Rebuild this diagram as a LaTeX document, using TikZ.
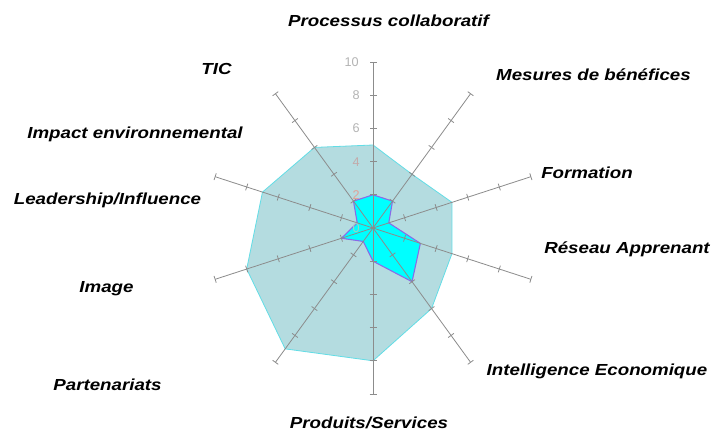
\documentclass[tikz,border=0pt]{standalone}
\usepackage{fontspec}
\setmainfont{Liberation Sans}
\definecolor{outerfill}{HTML}{B4DCE0}
\definecolor{outeredge}{HTML}{62DDE6}
\definecolor{innerfill}{HTML}{00FFFF}
\definecolor{inneredge}{HTML}{8A6AE8}
\definecolor{axiscol}{HTML}{8C8C8C}
\definecolor{numcol}{HTML}{B4B4B4}
\definecolor{numfour}{RGB}{195,170,170}
\definecolor{numtwo}{RGB}{226,160,150}
\definecolor{numzero}{RGB}{160,210,195}
\newcommand\lbltxt[1]{\scalebox{1.17}[1]{#1}}
\begin{document}
\begin{tikzpicture}[x=0.75pt,y=-0.75pt,
  lab/.style={font=\fontsize{12}{14}\selectfont\bfseries\itshape, anchor=base, inner sep=0pt},
  num/.style={font=\fontsize{9.5}{10}\selectfont, anchor=east, inner sep=0pt, text=numcol},
  axisline/.style={draw=axiscol, line width=0.6pt},
  outerpoly/.style={fill=outerfill, draw=outeredge, line width=0.6pt},
  innerpoly/.style={fill=innerfill, draw=inneredge, line width=0.8pt}]
\useasboundingbox[fill=white] (0,0) rectangle (713,432);
\coordinate (c) at (373,228);
\foreach \i in {0,...,9} {
  \coordinate (e\i) at ({373+166*sin(36*\i)},{228-166*cos(36*\i)});
}
\foreach \i/\v in {0/5,1/4,2/5,3/5,4/6,5/8,6/9,7/8,8/7,9/6} {
  \coordinate (o\i) at ({373+\v*16.6*sin(36*\i)},{228-\v*16.6*cos(36*\i)});
}
\foreach \i/\v in {0/2,1/2,2/1,3/3,4/4,5/2,6/1,7/2,8/1,9/2} {
  \coordinate (n\i) at ({373+\v*16.6*sin(36*\i)},{228-\v*16.6*cos(36*\i)});
}
\path[outerpoly] (o0) -- (o1) -- (o2) -- (o3) -- (o4) -- (o5) -- (o6) -- (o7) -- (o8) -- (o9) -- cycle;
\path[innerpoly] (n0) -- (n1) -- (n2) -- (n3) -- (n4) -- (n5) -- (n6) -- (n7) -- (n8) -- (n9) -- cycle;
\foreach \i in {0,...,9} {
  \draw[axisline] (c) -- (e\i);
  \foreach \k in {2,4,6,8,10} {
    \draw[axisline] ({373+\k*16.6*sin(36*\i)+3.5*cos(36*\i)},{228-\k*16.6*cos(36*\i)+3.5*sin(36*\i)})
      -- ({373+\k*16.6*sin(36*\i)-3.5*cos(36*\i)},{228-\k*16.6*cos(36*\i)-3.5*sin(36*\i)});
  }
}
\node[num] (v10) at (359,62) {10};
\node[num] (v8) at (360,95) {8};
\node[num] (v6) at (360,128) {6};
\node[num, text=numfour] (v4) at (360,162) {4};
\node[num, text=numtwo] (v2) at (360,195) {2};
\node[num, text=numzero] (v0) at (360,228) {0};
\node[lab] (l0) at (388.5,26.5) {\lbltxt{Processus collaboratif}};
\node[lab] (l1) at (593.5,80) {\lbltxt{Mesures de bénéfices}};
\node[lab] (l2) at (587,178) {\lbltxt{Formation}};
\node[lab] (l3) at (627,253) {\lbltxt{Réseau Apprenant}};
\node[lab] (l4) at (597,375) {\lbltxt{Intelligence Economique}};
\node[lab] (l5) at (369,428) {\lbltxt{Produits/Services}};
\node[lab] (l6) at (107.5,390) {\lbltxt{Partenariats}};
\node[lab] (l7) at (106.5,292) {\lbltxt{Image}};
\node[lab] (l8) at (107.5,204.5) {\lbltxt{Leadership/Influence}};
\node[lab] (l9) at (135,138) {\lbltxt{Impact environnemental}};
\node[lab] (l10) at (216.5,74) {\lbltxt{TIC}};
\end{tikzpicture}
\end{document}
